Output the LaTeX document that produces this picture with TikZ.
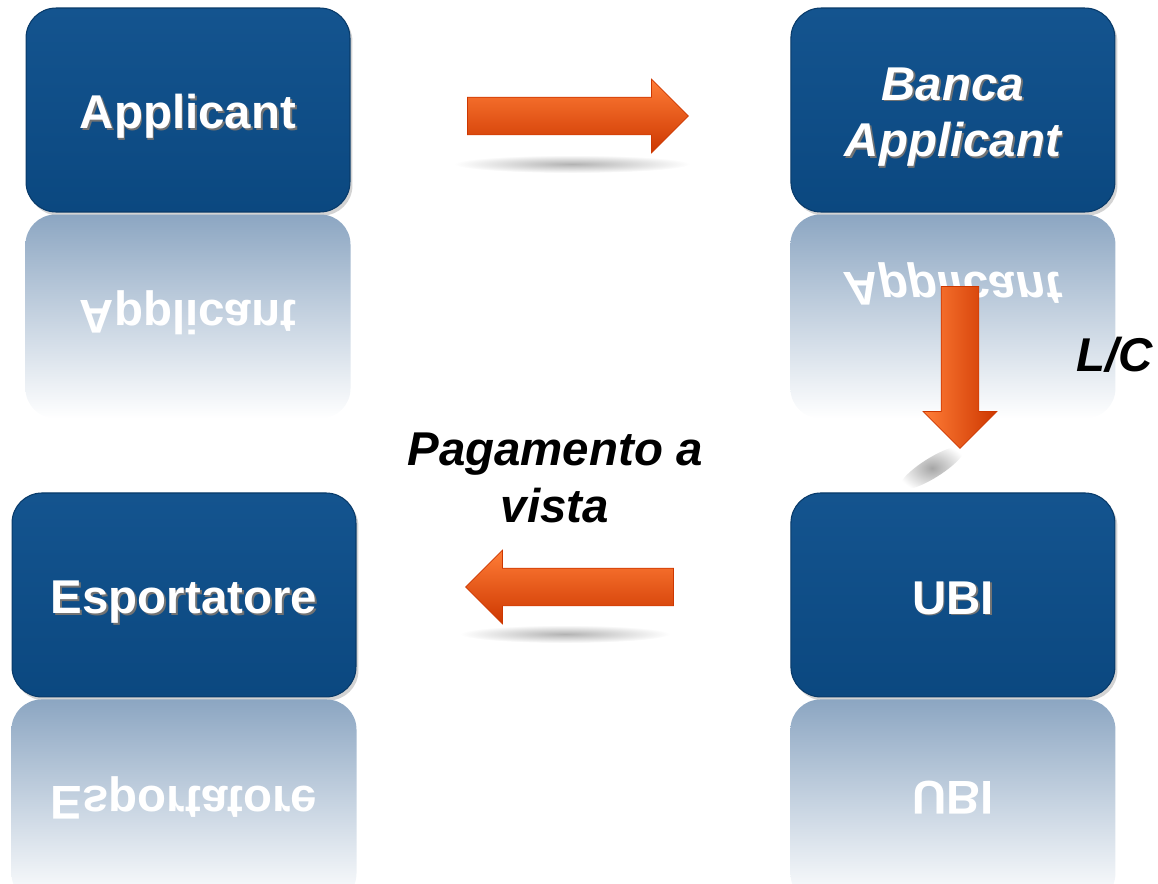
\documentclass[tikz,border=0pt]{standalone}
\usepackage{fontspec}
\setmainfont{Liberation Sans}
\usepackage{graphicx}
\usetikzlibrary{positioning,shapes.arrows,shadows,calc}

\definecolor{boxblue}{RGB}{11,72,128}
\definecolor{boxtop}{RGB}{20,84,143}
\definecolor{boxedge}{RGB}{8,58,105}
\definecolor{refl}{RGB}{140,166,194}
\definecolor{arrorange}{RGB}{250,72,0}
\definecolor{arrlight}{RGB}{255,125,55}
\definecolor{arrdark}{RGB}{205,55,0}

\newcommand\lblfont{\fontsize{27}{32.3}\selectfont\bfseries}
\newcommand\shd[2][4pt]{\raisebox{-#1}[\height][\depth]{\makebox[0pt][l]{\kern1pt\raisebox{-1pt}{\color{black!55}#2}}#2}}
\newcommand\flip[1]{\scalebox{1}[-1]{#1}}

\tikzset{
  blk/.style={rectangle,rounded corners=0.6cm,minimum width=6.48cm,minimum height=4.08cm,
    top color=boxtop,bottom color=boxblue,draw=boxedge,line width=0.6pt,
    text=white,font=\lblfont,align=center,
    drop shadow={opacity=0.35,shadow xshift=0.05cm,shadow yshift=-0.07cm}},
  refltext/.style={text=white,font=\lblfont},
  arr/.style={single arrow,single arrow head extend=0.36cm,inner sep=0.37cm,
    draw=arrdark,line width=0.4pt,top color=arrlight,middle color=arrorange,bottom color=arrdark},
  lbl/.style={font=\lblfont\itshape,align=center}
}

\begin{document}
\begin{tikzpicture}[x=0.02cm,y=-0.02cm]
  \useasboundingbox (0,0) rectangle (1158,883);

  \node[blk] (app) at (188,110) {\shd{Applicant}};
  \node[blk] (bank) [right=8.8cm of app] {\itshape\shd[4.5pt]{Banca}\\\itshape\shd[4.5pt]{Applicant}};
  \node[blk] (ubi) [below=5.6cm of bank] {\shd[2.3pt]{UBI}};
  \node[blk,minimum width=6.88cm] (exp) [left=8.68cm of ubi] {\shd[4.5pt]{Esportatore}};

  % reflections
  \shade[top color=refl,bottom color=white,rounded corners=0.6cm]
    ($(app.south west)+(0,2)$) rectangle ($(app.south east)+(0,206)$);
  \shade[top color=refl,bottom color=white,rounded corners=0.6cm]
    ($(bank.south west)+(0,2)$) rectangle ($(bank.south east)+(0,206)$);
  \shade[top color=refl,bottom color=white,rounded corners=0.6cm]
    ($(exp.south west)+(0,2)$) rectangle ($(exp.south east)+(0,206)$);
  \shade[top color=refl,bottom color=white,rounded corners=0.6cm]
    ($(ubi.south west)+(0,2)$) rectangle ($(ubi.south east)+(0,206)$);
  \node[refltext] (appr) at ($(app.south)+(0,100)$) {\flip{Applicant}};
  \node[refltext] (bankr) at ($(bank.south)+(0,72)$) {\flip{\itshape Applicant}};
  \node[refltext] (expr) at ($(exp.south)+(0,100)$) {\flip{Esportatore}};
  \node[refltext] (ubir) at ($(ubi.south)+(0,100)$) {\flip{UBI}};

  % arrow shadows
  \shade[inner color=black!30,outer color=white] (572,164) ellipse [x radius=118,y radius=9];
  \shade[inner color=black!30,outer color=white] (565,634) ellipse [x radius=105,y radius=9];
  \begin{scope}[shift={(932,468)},rotate=32]
    \shade[inner color=black!35,outer color=white] (0,0) ellipse [x radius=38,y radius=10];
  \end{scope}

  % arrows
  \node[arr,minimum height=4.42cm] (go) at (568.5,116) {};
  \node[arr,minimum height=3.24cm,shape border rotate=270,
    left color=arrlight,middle color=arrorange,right color=arrdark] (lcarr) at (960,358) {};
  \node[arr,minimum height=4.16cm,shape border rotate=180] (back) at (579,587) {};

  \node[lbl] (lc) at (1115,355) {L/C};
  \node[lbl] (pay) at (555,478) {Pagamento a\\vista};
\end{tikzpicture}
\end{document}
